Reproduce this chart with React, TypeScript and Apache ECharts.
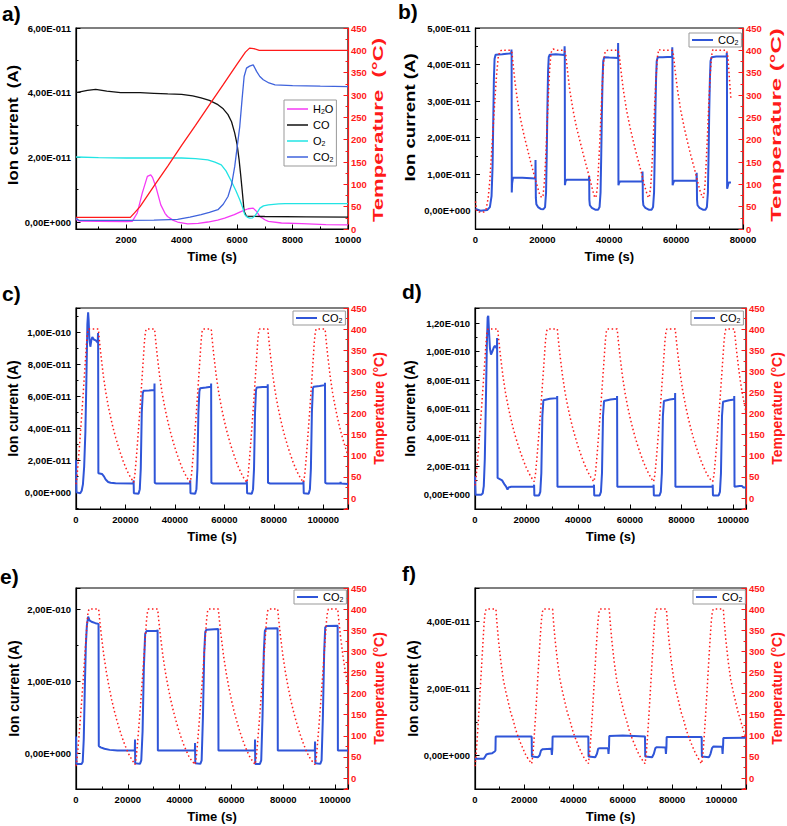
import React, { useEffect, useRef } from 'react';
import * as echarts from 'echarts';

const FONT = "'Liberation Sans', Arial, Helvetica, sans-serif";
type P = [number, number][];

// ---------- Panel a (time s, ion current in 1e-11 A, temperature °C)
const aH2O: P = [[190,0.08],[300,0.03],[1000,0.02],[2000,0.01],[2218,0.02],[2400,0.28],[2582,0.9],[2764,1.41],[2885,1.46],[2950,1.38],[3067,1.1],[3248,0.53],[3400,0.27],[3491,0.17],[3700,0.05],[3854,0.0],[4218,-0.06],[4600,-0.04],[4945,0.0],[5300,0.06],[5551,0.12],[5900,0.23],[6157,0.33],[6400,0.41],[6581,0.43],[6700,0.33],[6824,0.17],[7000,0.07],[7127,0.02],[7600,-0.03],[8339,-0.05],[9200,-0.08],[10000,-0.09]];
const aCO: P = [[190,4.0],[600,4.07],[900,4.1],[1300,4.05],[1800,4.0],[2500,4.0],[3000,3.98],[3500,3.96],[4000,3.95],[4400,3.9],[4700,3.84],[5000,3.76],[5309,3.63],[5500,3.5],[5672,3.32],[5800,3.1],[5915,2.75],[6000,2.4],[6072,1.93],[6130,1.45],[6181,1.0],[6254,0.33],[6339,0.18],[7000,0.17],[8500,0.16],[10000,0.15]];
const aO2: P = [[190,2.01],[1000,1.99],[2000,1.98],[3000,1.98],[4000,1.98],[4500,1.96],[4945,1.92],[5200,1.85],[5430,1.77],[5600,1.58],[5794,1.26],[5950,0.98],[6097,0.69],[6200,0.45],[6278,0.23],[6380,0.14],[6460,0.12],[6560,0.13],[6642,0.19],[6730,0.3],[6824,0.43],[6950,0.5],[7127,0.53],[7500,0.56],[7733,0.57],[8500,0.57],[10000,0.57]];
const aCO2: P = [[190,0.12],[300,0.05],[1000,0.05],[2000,0.05],[3000,0.06],[3854,0.08],[4300,0.15],[4703,0.23],[5000,0.3],[5309,0.38],[5500,0.55],[5672,0.79],[5800,1.15],[5915,1.72],[6000,2.3],[6097,2.96],[6180,3.8],[6254,4.5],[6339,4.76],[6450,4.82],[6581,4.86],[6703,4.66],[6820,4.5],[6945,4.4],[7150,4.3],[7369,4.24],[8000,4.22],[9000,4.2],[10000,4.19]];
const aTemp: P = [[190,26],[2150,26],[2300,36],[2500,50],[3000,96],[3500,141],[4000,187],[4500,232],[5000,278],[5500,323],[6000,369],[6300,396],[6450,405],[6600,404],[6800,400],[10000,400]];

// ---------- Panel b
const bCO2: P = [[0,0.05],[1500,0.0],[3500,0.02],[4300,0.1],[4800,0.4],[5100,1.2],[5300,2.4],[5500,3.6],[5700,4.15],[6000,4.27],[8000,4.28],[10000,4.3],[10700,4.31],[10750,4.41],[10800,4.3],[10850,0.5],[10950,0.75],[11200,0.9],[14000,0.9],[17900,0.88],[17950,1.39],[18000,0.9],[18050,0.35],[18200,0.18],[18700,0.1],[19500,0.05],[20300,0.04],[20800,0.1],[21100,0.5],[21300,1.5],[21500,2.8],[21700,3.8],[21900,4.2],[22200,4.27],[24000,4.28],[26600,4.26],[26650,4.5],[26700,4.3],[26750,0.7],[26900,0.8],[27200,0.85],[30000,0.85],[33900,0.85],[34000,0.95],[34050,0.3],[34200,0.15],[34800,0.08],[35800,0.03],[36700,0.03],[37100,0.1],[37400,0.5],[37600,1.5],[37800,2.7],[38000,3.6],[38200,4.1],[38500,4.2],[40000,4.19],[42600,4.18],[42650,4.59],[42700,4.2],[42750,0.7],[42900,0.75],[43200,0.8],[46000,0.8],[49900,0.8],[49950,1.07],[50000,0.8],[50050,0.3],[50200,0.15],[50800,0.08],[51800,0.03],[52700,0.03],[53100,0.1],[53400,0.5],[53600,1.5],[53800,2.7],[54000,3.6],[54200,4.1],[54500,4.2],[56000,4.2],[58800,4.21],[58850,4.47],[58900,4.2],[58950,0.7],[59100,0.75],[59400,0.82],[62000,0.82],[66100,0.82],[66150,1.04],[66200,0.8],[66250,0.3],[66400,0.15],[67000,0.08],[68000,0.03],[68800,0.03],[69200,0.1],[69500,0.5],[69700,1.5],[69900,2.7],[70100,3.6],[70300,4.1],[70600,4.2],[72000,4.22],[75100,4.22],[75150,4.32],[75200,4.2],[75250,0.6],[75400,0.65],[75700,0.77],[76400,0.77]];
const bTemp: P = [[0,62],[300,40],[1000,38],[2500,38],[3200,45],[3800,70],[4300,110],[4800,170],[5300,230],[5800,290],[6300,345],[6800,385],[7300,398],[8000,401],[9000,400],[10500,400],[10900,395],[11300,365],[11800,330],[12500,290],[13500,245],[14500,210],[15500,180],[16500,150],[17500,122],[18500,95],[19200,77],[19800,70],[20200,75],[20600,105],[21000,160],[21400,230],[21800,300],[22200,360],[22600,395],[23200,403],[24500,400],[26600,400],[27000,390],[27500,355],[28200,310],[29200,265],[30200,228],[31200,198],[32200,168],[33200,140],[34200,112],[35000,88],[35600,72],[36000,70],[36400,90],[36800,140],[37200,200],[37600,270],[38000,335],[38400,380],[38800,398],[39500,400],[42600,400],[43000,390],[43500,355],[44200,312],[45200,265],[46200,228],[47200,196],[48200,166],[49200,138],[50200,108],[51000,85],[51700,70],[52000,72],[52400,95],[52800,145],[53200,210],[53600,280],[54000,340],[54400,385],[54800,402],[55500,400],[58800,400],[59200,390],[59700,355],[60400,312],[61400,265],[62400,228],[63400,195],[64400,165],[65400,137],[66400,107],[67200,84],[67900,70],[68200,72],[68600,95],[69000,150],[69400,215],[69800,285],[70200,345],[70600,388],[71000,402],[71800,400],[75100,400],[75500,385],[76000,330],[76400,290]];

// ---------- Panel c
const cCO2: P = [[0,2.0],[120,2.0],[180,0.0],[1700,-0.05],[2300,0.1],[2800,0.5],[3300,1.6],[3800,3.8],[4200,7.0],[4600,10.5],[4900,11.25],[5100,10.8],[5400,9.6],[5800,9.1],[6200,9.5],[6600,9.7],[7200,9.55],[8000,9.5],[8800,9.35],[8900,9.96],[8950,9.5],[9050,1.2],[10500,1.15],[11300,1.0],[12000,0.8],[13000,0.65],[14000,0.6],[16000,0.57],[23200,0.55],[23300,0.75],[23400,-0.05],[25300,-0.08],[25800,0.2],[26200,1.5],[26600,5.0],[27000,6.2],[27300,6.35],[29500,6.37],[31700,6.4],[31750,6.8],[31850,0.6],[32500,0.55],[46100,0.55],[46200,0.75],[46300,-0.05],[48200,-0.08],[48700,0.2],[49100,1.5],[49500,5.0],[49900,6.3],[50200,6.5],[52500,6.55],[54600,6.6],[54650,6.8],[54750,0.6],[55500,0.55],[69000,0.55],[69100,0.7],[69200,-0.05],[71100,-0.08],[71600,0.2],[72000,1.5],[72400,5.0],[72800,6.4],[73100,6.55],[75500,6.58],[77500,6.6],[77550,6.75],[77650,0.6],[78500,0.55],[91900,0.55],[92000,0.7],[92100,-0.05],[94100,-0.08],[94600,0.2],[95000,1.5],[95400,5.0],[95800,6.5],[96100,6.6],[98500,6.65],[100650,6.7],[100700,6.85],[100800,0.6],[101500,0.55],[106800,0.55],[107000,0.65],[107200,0.55],[110000,0.52]];
const cTemp: P = [[0,33],[300,45],[800,78],[1300,115],[1800,155],[2300,195],[2800,238],[3300,282],[3800,326],[4200,362],[4600,390],[5000,400],[9050,400],[9350,380],[10050,340],[11050,290],[12050,250],[13050,218],[14050,190],[15050,165],[16050,143],[17050,123],[18050,105],[19050,88],[20050,73],[21050,60],[22050,49],[23050,40],[23300,37],[23800,55],[24300,88],[24800,125],[25300,165],[25800,205],[26300,248],[26800,292],[27300,336],[27700,372],[28100,394],[28400,400],[31800,400],[32100,380],[32800,340],[33800,290],[34800,250],[35800,218],[36800,190],[37800,165],[38800,143],[39800,123],[40800,105],[41800,88],[42800,73],[43800,60],[44800,49],[45800,40],[46200,37],[46700,55],[47200,88],[47700,125],[48200,165],[48700,205],[49200,248],[49700,292],[50200,336],[50600,372],[51000,394],[51300,400],[54700,400],[55000,380],[55700,340],[56700,290],[57700,250],[58700,218],[59700,190],[60700,165],[61700,143],[62700,123],[63700,105],[64700,88],[65700,73],[66700,60],[67700,49],[68700,40],[69100,37],[69600,55],[70100,88],[70600,125],[71100,165],[71600,205],[72100,248],[72600,292],[73100,336],[73500,372],[73900,394],[74200,400],[77600,400],[77900,380],[78600,340],[79600,290],[80600,250],[81600,218],[82600,190],[83600,165],[84600,143],[85600,123],[86600,105],[87600,88],[88600,73],[89600,60],[90600,49],[91600,40],[92000,37],[92500,55],[93000,88],[93500,125],[94000,165],[94500,205],[95000,248],[95500,292],[96000,336],[96400,372],[96800,394],[97100,400],[100750,400],[101050,380],[101750,340],[102750,290],[103750,250],[104750,218],[105750,190],[106750,165],[107750,143],[108750,123],[109750,105],[110000,101]];

// ---------- Panel d
const dCO2: P = [[0,1.28],[150,1.28],[200,0.0],[2500,0.0],[3000,0.1],[3400,0.6],[3800,2.5],[4200,6.4],[4600,10.5],[4900,12.4],[5150,12.5],[5400,11.5],[5800,10.2],[6200,9.8],[6700,10.0],[7300,10.3],[7700,10.4],[8200,10.3],[8500,10.2],[8550,10.95],[8650,7.46],[8750,1.17],[10500,1.0],[11500,0.7],[12000,0.58],[12600,0.35],[13000,0.5],[14000,0.55],[22800,0.55],[22900,0.7],[23000,-0.05],[24800,-0.05],[25300,0.2],[25700,1.5],[26100,5.5],[26500,6.6],[29000,6.7],[31800,6.75],[31850,6.9],[31950,0.55],[46000,0.55],[46100,0.7],[46200,-0.05],[48300,-0.05],[48800,0.2],[49200,1.5],[49600,5.5],[50000,6.55],[52500,6.65],[55000,6.7],[55050,6.9],[55150,0.55],[69100,0.55],[69200,0.7],[69300,-0.05],[71500,-0.05],[72000,0.2],[72400,1.5],[72800,5.5],[73200,6.55],[75500,6.65],[77500,6.7],[77550,7.1],[77650,0.55],[92000,0.55],[92100,0.7],[92200,-0.05],[94400,-0.05],[94900,0.2],[95300,1.5],[95700,5.5],[96100,6.5],[98500,6.6],[100400,6.65],[100450,6.9],[100550,0.55],[102500,0.6],[103500,0.6],[104000,0.5],[105000,0.5]];
const dTemp: P = [[0,30],[300,42],[800,75],[1300,112],[1800,152],[2300,193],[2800,236],[3300,280],[3800,325],[4200,362],[4600,390],[5000,400],[8800,400],[9100,380],[9800,340],[10800,290],[11800,250],[12800,218],[13800,190],[14800,165],[15800,143],[16800,123],[17800,105],[18800,88],[19800,73],[20800,60],[21800,49],[22600,42],[22900,39],[23400,55],[23900,88],[24400,125],[24900,165],[25400,205],[25900,248],[26400,292],[26900,336],[27300,372],[27700,394],[28000,400],[31900,400],[32200,380],[32900,340],[33900,290],[34900,250],[35900,218],[36900,190],[37900,165],[38900,143],[39900,123],[40900,105],[41900,88],[42900,73],[43900,60],[44900,49],[45800,41],[46100,39],[46600,55],[47100,88],[47600,125],[48100,165],[48600,205],[49100,248],[49600,292],[50100,336],[50500,372],[50900,394],[51200,400],[55100,400],[55400,380],[56100,340],[57100,290],[58100,250],[59100,218],[60100,190],[61100,165],[62100,143],[63100,123],[64100,105],[65100,88],[66100,73],[67100,60],[68100,49],[68900,41],[69200,39],[69700,55],[70200,88],[70700,125],[71200,165],[71700,205],[72200,248],[72700,292],[73200,336],[73600,372],[74000,394],[74300,400],[77600,400],[77900,380],[78600,340],[79600,290],[80600,250],[81600,218],[82600,190],[83600,165],[84600,143],[85600,123],[86600,105],[87600,88],[88600,73],[89600,60],[90600,49],[91600,41],[92100,39],[92600,55],[93100,88],[93600,125],[94100,165],[94600,205],[95100,248],[95600,292],[96100,336],[96500,372],[96900,394],[97200,400],[100500,400],[100800,380],[101500,340],[102500,290],[103500,250],[104500,218],[105000,204]];

// ---------- Panel e
const eCO2: P = [[0,2.3],[120,2.3],[180,-1.5],[2200,-1.5],[2600,-1.2],[3000,2.0],[3400,9.0],[3800,15.0],[4200,17.8],[4700,19.0],[5200,18.5],[6000,18.3],[7500,18.1],[8700,18.0],[8800,1.0],[9500,0.8],[11000,0.6],[13000,0.45],[16000,0.38],[22700,0.37],[22780,1.9],[22850,-1.4],[24700,-1.5],[25200,-1.0],[25700,3.0],[26200,12.0],[26700,16.6],[27200,17.0],[31450,17.0],[31500,17.2],[31600,0.35],[45900,0.35],[45950,1.4],[46050,-1.4],[48000,-1.5],[48500,-1.0],[49000,5.0],[49500,14.0],[49900,16.9],[50400,17.2],[54900,17.3],[55000,0.35],[69050,0.35],[69110,1.9],[69200,-1.5],[71000,-1.5],[71500,-1.0],[72000,5.0],[72500,14.0],[72900,17.0],[73400,17.35],[77800,17.4],[77900,0.35],[92200,0.35],[92280,1.6],[92380,-1.4],[94300,-1.5],[94800,-1.0],[95300,5.0],[95800,14.0],[96200,17.5],[96700,17.7],[101000,17.75],[101100,0.35],[105000,0.35]];
const eTemp: P = [[0,28],[300,40],[800,72],[1300,110],[1800,150],[2300,192],[2800,235],[3300,280],[3800,325],[4200,362],[4600,390],[5000,400],[8750,400],[9050,380],[9750,340],[10750,290],[11750,250],[12750,216],[13750,186],[14750,160],[15750,137],[16750,116],[17750,97],[18750,80],[19750,65],[20750,52],[21750,42],[22780,32],[23280,50],[23780,85],[24280,123],[24780,163],[25280,205],[25780,248],[26280,292],[26780,336],[27200,372],[27600,394],[27950,400],[31530,400],[31830,380],[32530,340],[33530,290],[34530,250],[35530,216],[36530,186],[37530,160],[38530,137],[39530,116],[40530,97],[41530,80],[42530,65],[43530,52],[44530,42],[45950,32],[46450,50],[46950,85],[47450,123],[47950,163],[48450,205],[48950,248],[49450,292],[49950,336],[50370,372],[50770,394],[51100,400],[54950,400],[55250,380],[55950,340],[56950,290],[57950,250],[58950,216],[59950,186],[60950,160],[61950,137],[62950,116],[63950,97],[64950,80],[65950,65],[66950,52],[67950,42],[69110,32],[69610,50],[70110,85],[70610,123],[71110,163],[71610,205],[72110,248],[72610,292],[73110,336],[73530,372],[73930,394],[74260,400],[77860,400],[78160,380],[78860,340],[79860,290],[80860,250],[81860,216],[82860,186],[83860,160],[84860,137],[85860,116],[86860,97],[87860,80],[88860,65],[89860,52],[90860,42],[92280,32],[92780,50],[93280,85],[93780,123],[94280,163],[94780,205],[95280,248],[95780,292],[96280,336],[96700,372],[97100,394],[97430,400],[101030,400],[101330,380],[102030,340],[103030,290],[104030,250],[105000,218]];

// ---------- Panel f
const fCO2: P = [[0,-0.1],[3500,-0.1],[4000,-0.05],[4600,0.03],[5500,0.05],[7000,0.07],[8000,0.12],[8300,0.15],[8400,0.57],[23000,0.57],[23100,-0.03],[25500,-0.05],[26200,0.0],[26800,0.15],[27500,0.19],[31000,0.2],[31200,0.02],[31400,0.2],[31500,0.57],[46000,0.57],[46100,-0.03],[48800,-0.05],[49500,0.05],[50000,0.2],[50700,0.22],[54000,0.22],[54200,0.05],[54400,0.25],[54500,0.58],[60000,0.6],[69000,0.57],[69100,-0.03],[71900,-0.05],[72600,0.05],[73200,0.22],[73800,0.25],[77300,0.24],[77500,0.05],[77700,0.25],[77800,0.55],[92000,0.55],[92100,-0.03],[95000,-0.05],[95600,0.05],[96200,0.22],[96800,0.27],[100300,0.26],[100500,0.05],[100700,0.3],[100800,0.52],[110000,0.53]];
const fTemp: P = [[0,28],[300,45],[800,85],[1300,130],[1800,178],[2300,228],[2800,278],[3300,328],[3700,368],[4100,392],[4500,400],[8500,400],[8800,375],[9500,328],[10500,275],[11500,233],[12500,205],[13500,180],[14500,155],[15500,137],[16500,115],[17500,98],[18500,83],[19500,69],[20500,56],[21500,46],[22500,38],[23000,34],[23500,55],[24000,95],[24500,140],[25000,188],[25500,238],[26000,288],[26500,335],[26900,370],[27300,392],[27700,400],[31500,400],[31800,375],[32500,328],[33500,275],[34500,233],[35500,205],[36500,180],[37500,155],[38500,137],[39500,115],[40500,98],[41500,83],[42500,69],[43500,56],[44500,46],[45500,38],[46000,34],[46500,55],[47000,95],[47500,140],[48000,188],[48500,238],[49000,288],[49500,335],[49900,370],[50300,392],[50700,400],[54500,400],[54800,375],[55500,328],[56500,275],[57500,233],[58500,205],[59500,180],[60500,155],[61500,137],[62500,115],[63500,98],[64500,83],[65500,69],[66500,56],[67500,46],[68500,38],[69000,34],[69500,55],[70000,95],[70500,140],[71000,188],[71500,238],[72000,288],[72500,335],[72900,370],[73300,392],[73700,400],[77700,400],[78000,375],[78700,328],[79700,275],[80700,233],[81700,205],[82700,180],[83700,155],[84700,137],[85700,115],[86700,98],[87700,83],[88700,69],[89700,56],[90700,46],[91500,38],[92000,34],[92500,55],[93000,95],[93500,140],[94000,188],[94500,238],[95000,288],[95500,335],[95900,370],[96300,392],[96700,400],[100800,400],[101100,375],[101800,328],[102800,275],[103800,233],[104800,205],[105800,180],[106800,155],[107800,137],[108800,115],[109800,98],[110000,95]];

// axis scale settings
const xRanges: [number, number][] = [[190, 10000], [0, 80000], [0, 110000], [0, 105000], [0, 105000], [0, 110000]];
const ionRanges: [number, number][] = [[-0.216, 6], [-0.5, 5], [-1.04, 11.52], [-1.0, 13.05], [-5, 23], [-1, 5]];
const ionSplit = [3, 5, 6, 7, 3, 3];
const tempRanges: [number, number][] = [[0, 450], [0, 450], [-26, 450], [-26, 450], [-26, 450], [-26, 450]];
const panelLetters = ['a)', 'b)', 'c)', 'd)', 'e)', 'f)'];

const layout = [
  { left: 76, top: 28, width: 272, height: 201 },
  { left: 475.5, top: 28, width: 267.5, height: 201 },
  { left: 76, top: 308, width: 272, height: 201 },
  { left: 475, top: 308, width: 271, height: 201 },
  { left: 76, top: 588, width: 272, height: 201 },
  { left: 475, top: 588, width: 271, height: 201 },
];
const letterPos = [[2, 3], [398, 1], [2, 283], [402, 281], [0, 566], [402, 563]];
const legendPos = [[284, 100], [689, 33], [293, 311], [691, 311], [294, 590], [693, 590]];
const leftGap = [0, 0, 56, 58, 55, 52];

function sci(v: number): string {
  if (Math.abs(v) < 1e-6) return '0,00E+000';
  const e = Math.floor(Math.log10(Math.abs(v)) + 1e-9);
  const m = v / Math.pow(10, e);
  const ex = e - 11;
  return m.toFixed(2).replace('.', ',') + 'E' + (ex < 0 ? '-' : '+') + String(Math.abs(ex)).padStart(3, '0');
}

const RED = '#ff1a1a';
const BLUE = '#2f55d8';

function tickStyle(color: string) {
  return {
    axisLine: { show: true, onZero: false, lineStyle: { color, width: 1.2 } },
    axisTick: { show: true, inside: true, length: 4.5, lineStyle: { color, width: 1 } },
    minorTick: { show: true, splitNumber: 2, length: 2.5, lineStyle: { color, width: 1 } },
    splitLine: { show: false },
    minorSplitLine: { show: false },
  };
}
const labelBase = { fontSize: 9.5, fontWeight: 'bold', fontFamily: FONT };

function buildOption() {
  const grid = layout.map((g) => ({ ...g, show: true, borderColor: '#000', borderWidth: 1.2, backgroundColor: 'transparent' }));
  const xAxis = xRanges.map((r, i) => ({
    gridIndex: i, type: 'value', min: r[0], max: r[1],
    ...(i === 0 ? { splitNumber: 5 } : { interval: 20000 }),
    ...tickStyle('#000'),
    axisLabel: {
      ...labelBase, color: '#000', margin: 5, showMinLabel: i !== 0, showMaxLabel: r[1] % 20000 === 0 || i === 0,
      formatter: (v: number) => String(Math.round(v)),
    },
    name: 'Time (s)', nameLocation: 'middle', nameGap: 21,
    nameTextStyle: { fontSize: 13, fontWeight: 'bold', fontFamily: FONT, color: '#000' },
  }));
  const yAxis: any[] = [];
  ionRanges.forEach((r, i) => {
    yAxis.push({
      gridIndex: i, type: 'value', position: 'left', min: r[0], max: r[1], splitNumber: ionSplit[i],
      ...tickStyle('#000'),
      axisLabel: { ...labelBase, color: '#000', margin: 5, showMinLabel: false, showMaxLabel: i <= 1, formatter: (v: number) => sci(v) },
      ...(i >= 2 ? {
        name: 'Ion current (A)', nameLocation: 'middle', nameGap: leftGap[i],
        nameTextStyle: { fontSize: 14, fontWeight: 'bold', fontFamily: FONT, color: '#000' },
      } : {}),
    });
    const t = tempRanges[i];
    yAxis.push({
      gridIndex: i, type: 'value', position: 'right', min: t[0], max: t[1],
      ...(t[0] === 0 ? { interval: 50 } : { splitNumber: 9 }),
      ...tickStyle(RED),
      axisLabel: { ...labelBase, color: RED, margin: 3, showMinLabel: t[0] === 0, formatter: (v: number) => String(Math.round(v)) },
      ...(i >= 2 ? {
        name: 'Temperature (°C)', nameLocation: 'middle', nameGap: 24, nameRotate: 90,
        nameTextStyle: { fontSize: 14, fontWeight: 'bold', fontFamily: FONT, color: RED },
      } : {}),
    });
  });

  const line = (name: string, i: number, right: boolean, data: P, color: string, width: number, dotted = false) => ({
    type: 'line', name, xAxisIndex: i, yAxisIndex: 2 * i + (right ? 1 : 0), data, symbol: 'none', showSymbol: false,
    silent: true, itemStyle: { color },
    lineStyle: { color, width, ...(dotted ? { type: [1.5, 2.6], cap: 'butt' } : {}) },
  });

  const series = [
    line('H2O', 0, false, aH2O, '#f53af5', 1.3),
    line('CO', 0, false, aCO, '#111111', 1.3),
    line('O2', 0, false, aO2, '#22e4e4', 1.3),
    line('CO2', 0, false, aCO2, '#3f63dc', 1.3),
    line('Ta', 0, true, aTemp, RED, 1.3),
    line('CO2 b', 1, false, bCO2, BLUE, 2),
    line('Tb', 1, true, bTemp, RED, 1.5, true),
    line('CO2 c', 2, false, cCO2, BLUE, 2),
    line('Tc', 2, true, cTemp, RED, 1.5, true),
    line('CO2 d', 3, false, dCO2, BLUE, 2),
    line('Td', 3, true, dTemp, RED, 1.5, true),
    line('CO2 e', 4, false, eCO2, BLUE, 2),
    line('Te', 4, true, eTemp, RED, 1.5, true),
    line('CO2 f', 5, false, fCO2, BLUE, 2),
    line('Tf', 5, true, fTemp, RED, 1.5, true),
  ];

  const subMap: Record<string, string> = { H2O: 'H{s|2}O', CO: 'CO', O2: 'O{s|2}' };
  const legendText = {
    fontSize: 11, fontFamily: FONT, color: '#000', lineHeight: 12,
    rich: { s: { fontSize: 7, fontFamily: FONT, color: '#000', verticalAlign: 'bottom', lineHeight: 7 } },
  };
  const legendNames = [['H2O', 'CO', 'O2', 'CO2'], ['CO2 b'], ['CO2 c'], ['CO2 d'], ['CO2 e'], ['CO2 f']];
  const legend = legendNames.map((names, i) => ({
    left: legendPos[i][0], top: legendPos[i][1], orient: 'vertical', data: names,
    selectedMode: false, icon: 'rect', itemWidth: 21, itemHeight: i === 0 ? 1.5 : 2, itemGap: i === 0 ? 4 : 3,
    padding: i === 0 ? [3, 3, 3, 3] : [1, 3, 1, 3],
    borderColor: '#999', borderWidth: 1, backgroundColor: '#fff',
    textStyle: legendText,
    formatter: (n: string) => (subMap[n] !== undefined ? subMap[n] : 'CO{s|2}'),
  }));

  const title = panelLetters.map((t, i) => ({
    text: t, left: letterPos[i][0], top: letterPos[i][1], padding: 0,
    textStyle: { fontSize: 21, fontWeight: 'bold', fontFamily: FONT, color: '#000' },
  }));

  const vtext = (text: string, x: number, y: number, sx: number, color: string) => ({
    type: 'text', x, y, rotation: Math.PI / 2, scaleX: sx, scaleY: 1, silent: true,
    style: { text, fill: color, fontSize: 14, fontWeight: 'bold', fontFamily: FONT, align: 'center', verticalAlign: 'middle' },
  });
  const graphic = [
    vtext('Ion current  (A)', 13, 125, 1.2, '#000'),
    vtext('Temperature  (°C)', 378, 130, 1.58, RED),
    vtext('Ion current (A)', 410, 117.5, 1.33, '#000'),
    vtext('Temperature (°C)', 776.5, 125, 1.72, RED),
  ];

  return { animation: false, backgroundColor: '#fff', grid, xAxis, yAxis, series, legend, title, graphic };
}

export default function App() {
  const ref = useRef<HTMLDivElement>(null);
  useEffect(() => {
    if (!ref.current) return;
    const chart = echarts.init(ref.current, null, { renderer: 'svg' });
    chart.setOption(buildOption() as any);
    return () => chart.dispose();
  }, []);
  return <div ref={ref} style={{ position: 'absolute', left: 0, top: 0, width: 787, height: 826 }} />;
}
